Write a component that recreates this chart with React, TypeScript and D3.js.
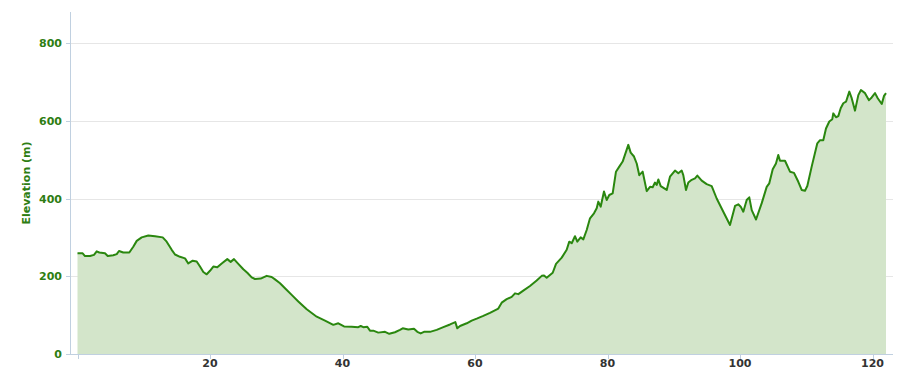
import React from "react";
import * as d3 from "d3";

const distanceKm = [
  0, 0.78, 1.13, 1.89, 2.49, 2.9, 3.29, 4.15, 4.56, 5.4, 5.92, 6.26, 6.91, 7.82, 8.42, 8.94, 9.69, 10.69, 11.7, 12.86,
  13.46, 14.22, 14.72, 15.47, 16.23, 16.72, 17.39, 17.99, 18.49, 18.99, 19.5, 20.0, 20.5, 21.1, 21.77, 22.61, 23.12, 23.62, 24.27, 25.03,
  25.63, 26.29, 26.79, 27.65, 28.56, 29.31, 29.81, 30.57, 31.32, 32.33, 33.33, 34.6, 36.11, 37.36, 38.61, 39.37, 40.23, 41.39, 42.38, 42.75,
  43.14, 43.74, 44.15, 44.65, 45.4, 46.42, 47.06, 47.92, 48.68, 49.09, 49.93, 50.79, 51.29, 51.8, 52.3, 53.21, 54.22, 55.22, 56.23, 57.03,
  57.33, 57.74, 58.75, 59.5, 60.26, 61.25, 62.26, 63.52, 64.03, 64.78, 65.54, 66.04, 66.54, 67.29, 68.3, 69.31, 70.07, 70.42, 70.82, 71.73,
  72.23, 73.09, 73.84, 74.23, 74.6, 75.09, 75.44, 75.95, 76.35, 76.86, 77.36, 77.96, 78.37, 78.61, 78.97, 79.47, 79.88, 80.27, 80.78, 81.28,
  81.78, 82.29, 83.14, 83.5, 84.0, 84.41, 84.8, 85.31, 85.92, 86.42, 86.82, 87.17, 87.43, 87.67, 88.03, 88.94, 89.43, 90.19, 90.69, 91.2,
  91.44, 91.85, 92.2, 92.71, 93.21, 93.56, 94.22, 94.97, 95.73, 96.48, 97.48, 98.49, 99.25, 99.74, 100.11, 100.5, 101.01, 101.4, 101.77, 102.42,
  103.28, 104.03, 104.42, 104.94, 105.43, 105.78, 106.04, 106.79, 107.55, 108.15, 108.8, 109.31, 109.81, 110.16, 110.82, 111.67, 112.08, 112.57, 112.98, 113.48,
  113.93, 114.08, 114.49, 114.84, 115.2, 115.59, 116.0, 116.5, 116.86, 117.36, 117.86, 118.26, 118.87, 119.47, 119.88, 120.38, 120.79, 121.4, 121.74, 122.04,
];

const elevationM = [
  259, 259, 252, 252, 255, 264, 261, 259, 252, 254, 257, 265, 261, 261, 276, 291, 300, 305, 303, 300,
  289, 268, 256, 250, 246, 233, 240, 238, 225, 211, 205, 214, 225, 223, 233, 244, 237, 244, 232, 218,
  209, 197, 193, 194, 201, 198, 192, 182, 169, 152, 135, 115, 96, 86, 75, 79, 71, 70, 69, 72,
  69, 70, 60, 60, 55, 57, 52, 56, 62, 66, 63, 65, 57, 53, 57, 57, 62, 69, 76, 82,
  66, 72, 79, 86, 91, 98, 106, 117, 132, 141, 147, 156, 154, 163, 175, 189, 201, 202, 196, 209,
  232, 248, 268, 289, 285, 303, 289, 300, 295, 319, 349, 362, 375, 392, 379, 418, 396, 409, 413, 469,
  482, 495, 538, 518, 508, 490, 460, 469, 419, 430, 429, 441, 435, 449, 432, 422, 456, 472, 465, 472,
  460, 422, 441, 448, 452, 459, 446, 437, 432, 400, 366, 332, 381, 385, 379, 366, 396, 403, 370, 346,
  388, 430, 439, 475, 490, 512, 497, 497, 469, 466, 443, 422, 420, 432, 482, 542, 550, 550, 580, 598,
  604, 619, 609, 612, 632, 645, 649, 675, 658, 626, 666, 679, 671, 653, 660, 671, 658, 643, 664, 671,
];

const xTicks = [0, 20, 40, 60, 80, 100, 120];
const yTicks = [0, 200, 400, 600, 800];
const yTitle = "Elevation (m)";

const W = 903;
const H = 369;
const plotLeft = 70;
const plotRight = 893;
const plotTop = 12;
const plotBottom = 354;

export default function App() {
  const x = d3.scaleLinear().domain([0, 120]).range([77.5, 872.5]);
  const y = d3.scaleLinear().domain([0, 800]).range([plotBottom, 43]);
  const pts = distanceKm.map((d, i) => [d, elevationM[i]] as [number, number]);
  const area = d3
    .area<[number, number]>()
    .x((d) => x(d[0]))
    .y0(y(0))
    .y1((d) => y(d[1]));
  const line = d3
    .line<[number, number]>()
    .x((d) => x(d[0]))
    .y((d) => y(d[1]));
  const font = "'DejaVu Sans', Verdana, sans-serif";
  return (
    <svg
      width={W}
      height={H}
      style={{ position: "absolute", left: 0, top: 0, background: "#fff" }}
      fontFamily={font}
    >
      {yTicks
        .filter((t) => t > 0)
        .map((t) => (
          <line key={t} x1={plotLeft} x2={plotRight} y1={Math.round(y(t)) + 0.5} y2={Math.round(y(t)) + 0.5} stroke="#e6e6e6" strokeWidth={1} />
        ))}
      <path d={area(pts) || ""} fill="#d3e5ca" stroke="none" />
      <path d={line(pts) || ""} fill="none" stroke="#2a870f" strokeWidth={2} strokeLinejoin="round" />
      {/* axes */}
      <line x1={plotLeft + 0.5} x2={plotLeft + 0.5} y1={plotTop} y2={plotBottom} stroke="#c0d0e0" strokeWidth={1} />
      <line x1={plotLeft} x2={plotRight} y1={plotBottom + 0.5} y2={plotBottom + 0.5} stroke="#c0d0e0" strokeWidth={1} />
      {xTicks.map((t) => (
        <g key={t}>
          <line x1={Math.round(x(t)) + 0.5} x2={Math.round(x(t)) + 0.5} y1={plotBottom} y2={plotBottom + 5} stroke="#c0d0e0" strokeWidth={1} />
          {t > 0 && (
            <text x={x(t)} y={367} textAnchor="middle" fontSize={11} fontWeight="bold" fill="#333333">
              {t}
            </text>
          )}
        </g>
      ))}
      {yTicks.map((t) => (
        <g key={t}>
          <line x1={plotLeft - 4} x2={plotLeft} y1={Math.round(y(t)) + 0.5} y2={Math.round(y(t)) + 0.5} stroke="#c0d0e0" strokeWidth={1} />
          <text x={62} y={y(t) + 4} textAnchor="end" fontSize={11} fontWeight="bold" fill="#2e7d12">
            {t}
          </text>
        </g>
      ))}
      <text
        transform={`translate(30, ${183}) rotate(-90)`}
        textAnchor="middle"
        fontSize={11}
        fontWeight="bold"
        fill="#2e7d12"
      >
        {yTitle}
      </text>
    </svg>
  );
}
